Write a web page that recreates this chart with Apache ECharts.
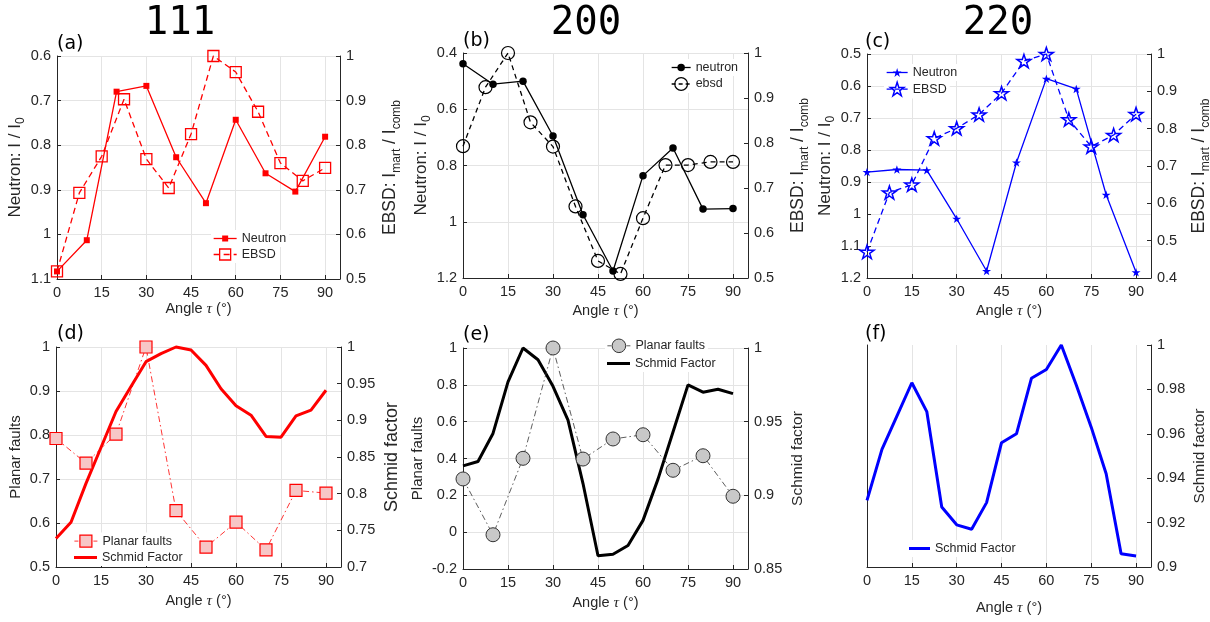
<!DOCTYPE html>
<html><head><meta charset="utf-8">
<script src="https://cdn.jsdelivr.net/npm/echarts@6/dist/echarts.min.js"></script>
<style>html,body{margin:0;padding:0;background:#fff}#c{width:1210px;height:622px}</style>
</head><body><div id="c"></div>
<script>
// ---- data ----
const ang10 = [0,10,20,30,40,50,60,70,80,90];
const ang75 = [0,7.5,15,22.5,30,37.5,45,52.5,60,67.5,75,82.5,90];
const ang5 = [0,5,10,15,20,25,30,35,40,45,50,55,60,65,70,75,80,85,90];
const xTicks = [0,15,30,45,60,75,90];
const titles = ['111','200','220'];
const panelLabels = ['(a)','(b)','(c)','(d)','(e)','(f)'];

const a_neutron = [1.083,1.013,0.680,0.667,0.827,0.930,0.743,0.863,0.904,0.781];
const a_ebsd = [0.517,0.693,0.775,0.903,0.769,0.704,0.825,1.0,0.964,0.875,0.760,0.720,0.749];
const b_neutron = [0.438,0.511,0.500,0.695,0.975,1.175,0.836,0.738,0.955,0.953];
const b_ebsd = [0.793,0.924,1.0,0.846,0.792,0.659,0.538,0.509,0.633,0.751,0.751,0.758,0.758];
const c_neutron = [0.869,0.861,0.863,1.015,1.178,0.839,0.577,0.609,0.940,1.182];
const c_ebsd = [0.470,0.629,0.650,0.774,0.801,0.838,0.895,0.981,1.0,0.825,0.752,0.783,0.839];
const d_planar = [0.792,0.736,0.802,1.0,0.628,0.545,0.602,0.539,0.674,0.668];
const d_schmid = [0.739,0.761,0.814,0.863,0.912,0.946,0.980,0.991,1.0,0.996,0.975,0.943,0.920,0.907,0.878,0.877,0.906,0.914,0.941];
const e_planar = [0.289,-0.014,0.401,1.0,0.397,0.506,0.529,0.336,0.415,0.195];
const e_schmid = [0.920,0.923,0.942,0.977,1.0,0.992,0.974,0.951,0.908,0.859,0.860,0.866,0.883,0.911,0.943,0.975,0.970,0.972,0.969];
const f_schmid = [0.930,0.953,0.968,0.983,0.970,0.927,0.919,0.917,0.929,0.956,0.960,0.985,0.989,1.0,0.982,0.963,0.942,0.906,0.905];

// ---- style ----
const FONT = 'Liberation Sans';
const TXT = '#262626';
const GRIDC = '#e4e4e4';
const RED = '#ff0000', BLUE = '#0000ff', BLK = '#000000';
const STAR = 'path://M50,2 L61.8,37.6 L99.4,37.6 L69,59.6 L80.6,95.4 L50,73.4 L19.4,95.4 L31,59.6 L0.6,37.6 L38.2,37.6 Z';
const CLEAR = 'rgba(255,255,255,0)';

const grids = [
  {left:57, top:56, width:283, height:223},
  {left:463, top:53, width:285, height:225},
  {left:867, top:54, width:284, height:224},
  {left:56, top:347, width:285, height:220},
  {left:463, top:348, width:285, height:221},
  {left:867, top:345, width:284, height:222}
].map(g => Object.assign({outerBoundsMode:'none', containLabel:false}, g));

const xGaps = [21.5, 24.5, 24.5, 25.5, 25.5, 32.5];

function pts(xs, ys){ return xs.map((x,k)=>[x, ys[k]]); }

function xAx(i){
  return {type:'value', gridIndex:i, min:0, max:95, interval:15,
    axisLine:{show:true, onZero:false, lineStyle:{color:TXT, width:1}},
    axisTick:{show:true, inside:true, length:4, lineStyle:{color:TXT}},
    axisLabel:{color:TXT, fontSize:14.5, fontFamily:FONT, margin:6,
      formatter:v => xTicks.indexOf(Math.round(v*1000)/1000) >= 0 ? String(Math.round(v)) : ''},
    splitLine:{show:true, lineStyle:{color:GRIDC, width:1}},
    name:'Angle {t|τ} (°)', nameLocation:'middle', nameGap:xGaps[i],
    nameTextStyle:{color:TXT, fontSize:14.5, fontFamily:FONT,
      rich:{t:{fontFamily:'Liberation Serif', fontStyle:'italic', fontSize:15.5, color:TXT}}}
  };
}

function nameStyle(fs){
  const sub = Math.round(fs*0.7);
  return {color:TXT, fontSize:fs, fontFamily:FONT, lineHeight:Math.round(fs*1.4),
    rich:{s:{fontSize:sub, lineHeight:sub, verticalAlign:'bottom', color:TXT, fontFamily:FONT}}};
}

function yAx(i, pos, min, max, interval, opts){
  opts = opts || {};
  return {type:'value', gridIndex:i, position:pos, min:min, max:max, interval:interval,
    inverse:!!opts.inverse,
    axisLine:{show:true, onZero:false, lineStyle:{color:TXT, width:1}},
    axisTick:{show:opts.noLabel ? false : true, inside:true, length:4, lineStyle:{color:TXT}},
    axisLabel:{show:!opts.noLabel, color:TXT, fontSize:14.5, fontFamily:FONT, margin:6},
    splitLine:{show:!!opts.split, lineStyle:{color:GRIDC, width:1}},
    name:opts.name || '', nameLocation:'middle', nameRotate:90, nameGap:opts.gap || 30,
    nameTextStyle:nameStyle(opts.fs || 15)
  };
}

const xAxes = [0,1,2,3,4,5].map(xAx);
const NL = 'Neutron: I / I{s|0}';
const NE = 'EBSD: I{s|mart} / I{s|comb}';
const yAxes = [
  yAx(0,'left',0.6,1.1,0.1,{inverse:true, split:true, name:NL, gap:28, fs:17}),
  yAx(0,'right',0.5,1,0.1,{name:NE, gap:38, fs:17.5}),
  yAx(1,'left',0.4,1.2,0.2,{inverse:true, split:true, name:NL, gap:28, fs:17}),
  yAx(1,'right',0.5,1,0.1,{name:NE, gap:38, fs:17.5}),
  yAx(2,'left',0.5,1.2,0.1,{inverse:true, split:true, name:NL, gap:28, fs:17}),
  yAx(2,'right',0.4,1,0.1,{name:NE, gap:36, fs:17.5}),
  yAx(3,'left',0.5,1,0.1,{split:true, name:'Planar faults', gap:29, fs:15}),
  yAx(3,'right',0.7,1,0.05,{name:'Schmid factor', gap:39, fs:18}),
  yAx(4,'left',-0.2,1,0.2,{split:true, name:'Planar faults', gap:29, fs:15}),
  yAx(4,'right',0.85,1,0.05,{name:'Schmid factor', gap:39, fs:15.5}),
  yAx(5,'left',0,1,0.1,{noLabel:true}),
  yAx(5,'right',0.9,1,0.02,{name:'Schmid factor', gap:38, fs:15.5})
];

function ser(name, gi, side, xs, ys, o){
  return Object.assign({name:name, type:'line', xAxisIndex:gi, yAxisIndex:gi*2+side,
    data:pts(xs, ys), clip:false, animation:false, silent:true, symbolKeepAspect:true}, o);
}

const series = [
  ser('a_neutron',0,0,ang10,a_neutron,{symbol:'rect',symbolSize:6,lineStyle:{color:RED,width:1.3},itemStyle:{color:RED}}),
  ser('a_ebsd',0,1,ang75,a_ebsd,{symbol:'rect',symbolSize:11,lineStyle:{color:RED,width:1.3,type:[6,4]},itemStyle:{color:CLEAR,borderColor:RED,borderWidth:1.3}}),
  ser('b_neutron',1,0,ang10,b_neutron,{symbol:'circle',symbolSize:7.5,lineStyle:{color:BLK,width:1.3},itemStyle:{color:BLK}}),
  ser('b_ebsd',1,1,ang75,b_ebsd,{symbol:'circle',symbolSize:13,lineStyle:{color:BLK,width:1.3,type:[5,4]},itemStyle:{color:CLEAR,borderColor:BLK,borderWidth:1.2}}),
  ser('c_neutron',2,0,ang10,c_neutron,{symbol:STAR,symbolSize:9,lineStyle:{color:BLUE,width:1.3},itemStyle:{color:BLUE}}),
  ser('c_ebsd',2,1,ang75,c_ebsd,{symbol:STAR,symbolSize:14,lineStyle:{color:BLUE,width:1.3,type:[6,4]},itemStyle:{color:CLEAR,borderColor:BLUE,borderWidth:1.5}}),
  ser('d_planar',3,0,ang10,d_planar,{symbol:'rect',symbolSize:12,z:4,lineStyle:{color:RED,width:0.8,type:[6,3,1.5,3]},itemStyle:{color:'#f7c6c6',borderColor:RED,borderWidth:1.2}}),
  ser('d_schmid',3,1,ang5,d_schmid,{symbol:'none',lineStyle:{color:RED,width:3},itemStyle:{color:RED}}),
  ser('e_planar',4,0,ang10,e_planar,{symbol:'circle',symbolSize:14,z:4,lineStyle:{color:'#333',width:0.8,type:[6,3,1.5,3]},itemStyle:{color:'#c8c8c8',borderColor:'#333',borderWidth:1}}),
  ser('e_schmid',4,1,ang5,e_schmid,{symbol:'none',lineStyle:{color:BLK,width:3},itemStyle:{color:BLK}}),
  ser('f_schmid',5,1,ang5,f_schmid,{symbol:'none',lineStyle:{color:BLUE,width:3},itemStyle:{color:BLUE}})
];

function legendEntry(o){
  const th = 14, pt = 2;
  return {show:true, orient:'vertical', selectedMode:false,
    data:[o.icon ? {name:o.series, icon:o.icon} : o.series],
    formatter:o.label, left:o.left - 2, top:o.cy - Math.max(o.ih, th)/2 - pt,
    itemWidth:o.iw, itemHeight:o.ih, itemGap:0, padding:[pt,3,pt,2],
    backgroundColor:'#fff',
    textStyle:{fontSize:12.5, color:TXT, fontFamily:FONT},
    itemStyle:o.itemStyle, lineStyle:o.lineStyle};
}

const legends = [
  legendEntry({series:'a_neutron',label:'Neutron',left:213,cy:239,iw:23,ih:7.5,itemStyle:{color:RED,borderWidth:0},lineStyle:{color:RED,width:1.3,type:'solid'}}),
  legendEntry({series:'a_ebsd',label:'EBSD',left:213,cy:255,iw:23,ih:13.75,itemStyle:{color:CLEAR,borderColor:RED,borderWidth:1.3},lineStyle:{color:RED,width:1.3,type:[6,4]}}),
  legendEntry({series:'b_neutron',label:'neutron',left:671,cy:68,iw:19,ih:9.4,itemStyle:{color:BLK,borderWidth:0},lineStyle:{color:BLK,width:1.3,type:'solid'}}),
  legendEntry({series:'b_ebsd',label:'ebsd',left:671,cy:85,iw:19,ih:16,itemStyle:{color:CLEAR,borderColor:BLK,borderWidth:1.2},lineStyle:{color:BLK,width:1.3,type:[4,3]}}),
  legendEntry({series:'c_neutron',label:'Neutron',left:886,cy:73,iw:21,ih:11,itemStyle:{color:BLUE,borderWidth:0},lineStyle:{color:BLUE,width:1.3,type:'solid'}}),
  legendEntry({series:'c_ebsd',label:'EBSD',left:886,cy:90,iw:21,ih:17,itemStyle:{color:CLEAR,borderColor:BLUE,borderWidth:1.5},lineStyle:{color:BLUE,width:1.3,type:[5,3]}}),
  legendEntry({series:'d_planar',label:'Planar faults',left:74,cy:542,iw:23,ih:15,itemStyle:{color:'#f7c6c6',borderColor:RED,borderWidth:1.2},lineStyle:{color:RED,width:0.8,type:[4,2,1.5,2]}}),
  legendEntry({series:'d_schmid',label:'Schmid Factor',left:74,cy:558,iw:23,ih:3,icon:'rect',itemStyle:{color:RED,borderWidth:0}}),
  legendEntry({series:'e_planar',label:'Planar faults',left:607,cy:347,iw:23,ih:17,itemStyle:{color:'#c8c8c8',borderColor:'#333',borderWidth:1},lineStyle:{color:'#333',width:0.8,type:[4,2,1.5,2]}}),
  legendEntry({series:'e_schmid',label:'Schmid Factor',left:607,cy:364,iw:23,ih:3,icon:'rect',itemStyle:{color:BLK,borderWidth:0}}),
  legendEntry({series:'f_schmid',label:'Schmid Factor',left:909,cy:549,iw:21,ih:3,icon:'rect',itemStyle:{color:BLUE,borderWidth:0}})
];

const titlePos = [[180,24],[586,24],[998,24]];
const labelPos = [[57,44],[463,41],[865,42],[57,334],[463,335],[865,334]];
const graphic = [];
titles.forEach((t,k)=>graphic.push({type:'text', x:titlePos[k][0], y:titlePos[k][1], silent:true,
  style:{text:t, font:'39px "DejaVu Sans Mono"', fill:'#000', textAlign:'center', textVerticalAlign:'middle'}}));
panelLabels.forEach((t,k)=>graphic.push({type:'text', x:labelPos[k][0], y:labelPos[k][1], silent:true,
  style:{text:t, font:'19px "DejaVu Sans"', fill:'#000', textAlign:'left', textVerticalAlign:'middle'}}));

const chart = echarts.init(document.getElementById('c'), null, {renderer:'canvas'});
chart.setOption({
  animation:false,
  backgroundColor:'#fff',
  grid:grids, xAxis:xAxes, yAxis:yAxes, series:series, legend:legends, graphic:graphic
});
</script>
</body></html>
